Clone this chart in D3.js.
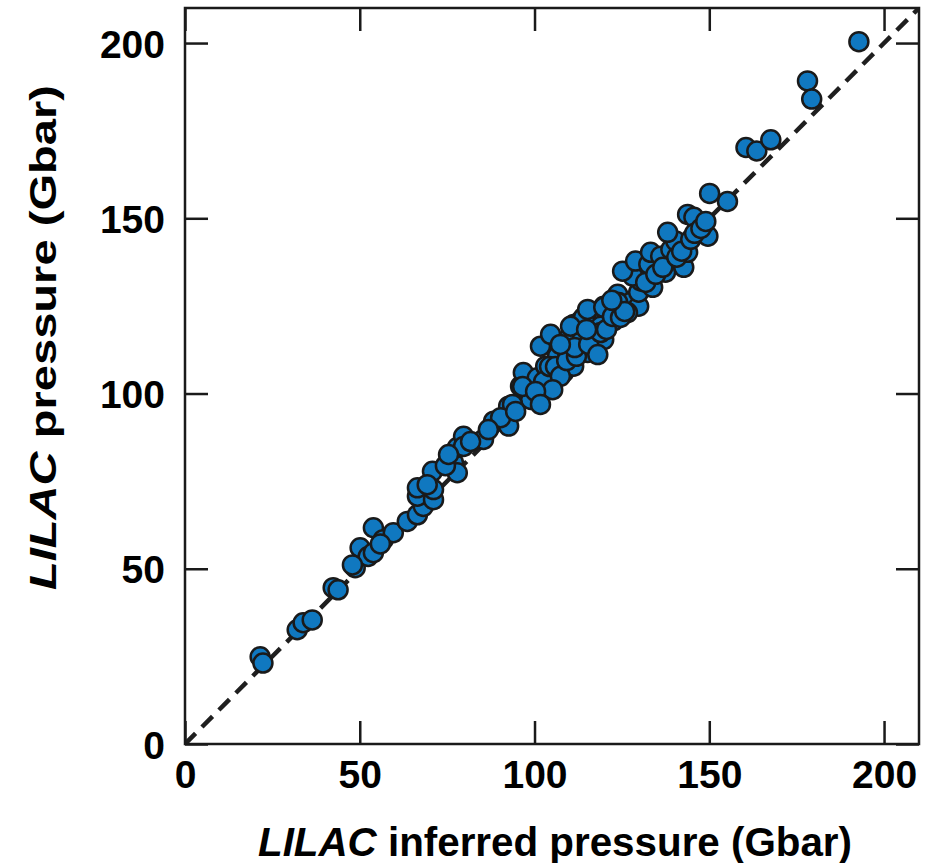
<!DOCTYPE html>
<html>
<head>
<meta charset="utf-8">
<script src="https://cdn.jsdelivr.net/npm/d3@7"></script>
<style>
  body { margin: 0; background: #fff; }
  text { font-family: "Liberation Sans", Arial, sans-serif; font-weight: bold; fill: #000; }
</style>
</head>
<body>
<div id="chart"></div>
<script>
const w = 936;
const h = 863;
const margin = { top: 8, left: 185, right: 17, bottom: 119 };
const iw = w - margin.left - margin.right;
const ih = h - margin.top - margin.bottom;

const ticks = [0, 50, 100, 150, 200];
const domainMax = 210;

// inferred pressure (x) vs LILAC pressure (y), Gbar
const inferred = [
  21.5, 22.3, 32.1, 33.8, 36.4, 42.4, 43.8, 48.7, 50.1, 52.4, 53.9, 53.9, 56.7, 59.6, 63.6, 66.5,
  68.2, 66.5, 71.1, 66.5, 71.1, 70.8, 76.8, 77.9, 77.9, 79.7, 79.7, 85.4, 88.3, 92.6, 92.6, 96.0,
  98.3, 96.8, 100.8, 103.2, 101.7, 104.6, 106.6, 108.3, 111.2, 109.5, 115.2, 109.5, 113.8, 113.2,
  116.9, 119.8, 111.2, 114.0, 116.9, 119.8, 122.6, 119.8, 123.8, 124.1, 127.5, 129.8, 129.8, 133.8,
  130.4, 128.1, 125.2, 128.9, 132.7, 133.2, 136.1, 137.5, 142.7, 143.8, 139.0, 140.4, 138.1, 146.7,
  149.6, 148.4, 143.8, 145.6, 150.1, 155.2, 160.5, 163.6, 167.6, 178.1, 179.3, 192.8,
  118.9, 115.2, 119.8, 123.8, 126.6, 110.3,
  98.9, 96.6, 93.7, 102.6, 104.3, 106.0, 107.4, 109.2, 112.0, 111.5, 115.5, 118.1, 118.9, 120.6,
  122.3, 124.6, 125.8, 122.1, 131.8, 134.7, 136.7, 140.7, 142.1, 144.7, 145.8, 147.6, 149.0,
  90.3, 94.6, 86.8, 81.7, 74.5, 75.4, 69.3, 55.9, 47.9, 114.9, 107.4, 105.2, 100.3, 101.7
];
const lilac = [
  24.9, 23.1, 32.6, 34.6, 35.4, 44.6, 44.0, 50.3, 56.0, 53.5, 54.6, 61.7, 58.3, 60.3, 63.5, 65.4,
  67.8, 70.7, 69.7, 73.1, 72.6, 77.8, 80.3, 77.4, 84.6, 87.8, 84.9, 86.9, 92.1, 90.7, 96.4, 102.1,
  98.9, 106.0, 104.5, 107.8, 113.5, 116.9, 110.7, 106.0, 107.8, 111.7, 111.7, 115.4, 116.4, 120.7,
  113.5, 115.4, 119.7, 121.7, 123.1, 121.1, 120.7, 124.9, 128.3, 126.0, 126.0, 124.9, 128.9, 130.3,
  132.1, 133.5, 134.9, 137.8, 136.9, 140.3, 139.2, 134.6, 136.0, 140.3, 141.1, 143.5, 146.0, 146.9,
  144.9, 148.3, 151.1, 150.3, 157.1, 154.8, 170.2, 169.2, 172.4, 189.2, 184.0, 200.4,
  119.2, 124.0, 124.6, 126.0, 123.1, 119.2,
  98.3, 102.0, 96.9, 103.4, 107.7, 107.7, 104.9, 109.4, 110.6, 113.1, 114.0, 111.1, 117.4, 118.3,
  122.0, 121.7, 123.4, 126.6, 131.7, 134.0, 136.0, 138.9, 140.6, 144.0, 145.7, 147.1, 149.1,
  93.1, 94.9, 89.7, 86.3, 79.4, 82.6, 74.0, 57.1, 51.1, 118.3, 114.0, 101.1, 100.6, 96.9
];
const points = inferred.map((v, i) => ({ x: v, y: lilac[i] }));

const svg = d3.select("#chart").append("svg").attr("width", w).attr("height", h);
const g = svg.append("g").attr("transform", `translate(${margin.left},${margin.top})`);

const x = d3.scaleLinear().domain([0, domainMax]).range([0, iw]);
const y = d3.scaleLinear().domain([0, domainMax]).range([ih, 0]);

g.append("clipPath").attr("id", "clip").append("rect").attr("width", iw).attr("height", ih);

// inward ticks on all four sides
const tickLen = 23;
const tickStyle = (sel) => {
  sel.select(".domain").remove();
  sel.selectAll(".tick line").attr("stroke", "#1a1a1a").attr("stroke-width", 2.5);
};
const labelStyle = (sel) => sel
  .attr("font-size", 39)
  .attr("font-family", "Liberation Sans, Arial, sans-serif")
  .attr("font-weight", "bold")
  .attr("fill", "#000");

g.append("g").attr("transform", `translate(0,${ih})`)
  .call(d3.axisBottom(x).tickValues(ticks).tickSize(-tickLen).tickPadding(16))
  .call(tickStyle)
  .selectAll("text").call(labelStyle);
g.append("g")
  .call(d3.axisTop(x).tickValues(ticks).tickSize(-tickLen).tickFormat(""))
  .call(tickStyle);
g.append("g")
  .call(d3.axisLeft(y).tickValues(ticks).tickSize(-tickLen).tickPadding(20))
  .call(tickStyle)
  .selectAll("text").call(labelStyle).attr("dy", "0.36em");
g.append("g").attr("transform", `translate(${iw},0)`)
  .call(d3.axisRight(y).tickValues(ticks).tickSize(-tickLen).tickFormat(""))
  .call(tickStyle);

// y = x reference line
g.append("line")
  .attr("clip-path", "url(#clip)")
  .attr("x1", x(0)).attr("y1", y(0))
  .attr("x2", x(domainMax)).attr("y2", y(domainMax))
  .attr("stroke", "#1f1f1f")
  .attr("stroke-width", 4.5)
  .attr("stroke-dasharray", "15,9");

g.append("g")
  .selectAll("circle")
  .data(points)
  .enter()
  .append("circle")
  .attr("cx", (d) => x(d.x))
  .attr("cy", (d) => y(d.y))
  .attr("r", 9.5)
  .attr("fill", "#1078c0")
  .attr("stroke", "#1a1a1a")
  .attr("stroke-width", 2.5);

// frame
g.append("rect")
  .attr("width", iw).attr("height", ih)
  .attr("fill", "none").attr("stroke", "#1a1a1a").attr("stroke-width", 2.5);

// axis titles
const xt = svg.append("text")
  .attr("x", 258)
  .attr("y", 856)
  .attr("font-size", 40)
  .attr("textLength", 594)
  .attr("lengthAdjust", "spacingAndGlyphs");
xt.append("tspan").attr("font-style", "italic").text("LILAC");
xt.append("tspan").text(" inferred pressure (Gbar)");

const yt = svg.append("text")
  .attr("transform", `translate(56,590) rotate(-90)`)
  .attr("font-size", 37)
  .attr("textLength", 505)
  .attr("lengthAdjust", "spacingAndGlyphs");
yt.append("tspan").attr("font-style", "italic").text("LILAC");
yt.append("tspan").text(" pressure (Gbar)");
</script>
</body>
</html>
